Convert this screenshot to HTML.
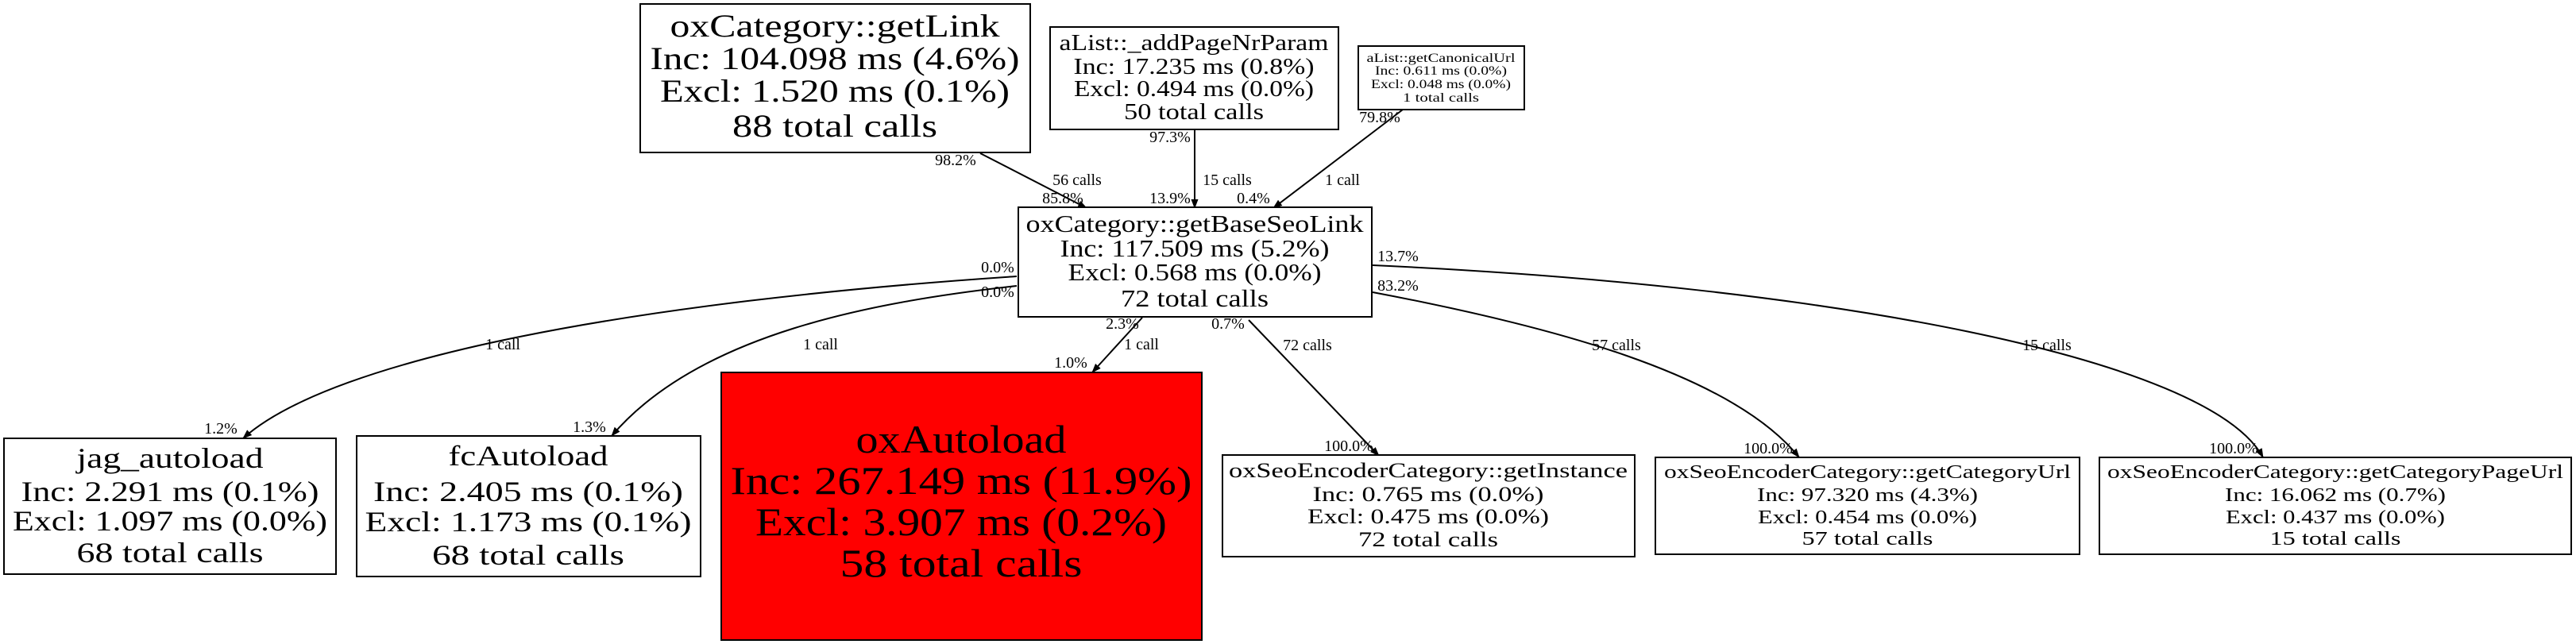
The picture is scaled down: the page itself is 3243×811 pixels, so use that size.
<!DOCTYPE html>
<html><head><meta charset="utf-8"><style>html,body{margin:0;padding:0;background:#fff}svg{display:block}</style></head>
<body>
<svg width="3243" height="811" viewBox="0 0 3243 811" xmlns="http://www.w3.org/2000/svg" font-family="Liberation Serif, serif" text-anchor="middle">
<rect width="3243" height="811" fill="#fff"/>
<defs><marker id="a" markerWidth="12" markerHeight="12" refX="11" refY="6" orient="auto" markerUnits="userSpaceOnUse"><path d="M0,1.5 L12,6 L0,10.5 z" fill="#000"/></marker></defs>
<g fill="none" stroke="#000" stroke-width="2">
<path d="M1234,193 L1368,262" marker-end="url(#a)"/>
<path d="M1504,163 L1504,262" marker-end="url(#a)"/>
<path d="M1766,138 L1603,262" marker-end="url(#a)"/>
<path d="M1280,348 C800,380 420,450 306,552" marker-end="url(#a)"/>
<path d="M1280,360 C1100,380 880,420 770,549" marker-end="url(#a)"/>
<path d="M1438,400 L1375,469" marker-end="url(#a)"/>
<path d="M1572,403 L1736,574" marker-end="url(#a)"/>
<path d="M1728,368 C1950,410 2180,470 2265,576" marker-end="url(#a)"/>
<path d="M1728,334 C2300,360 2780,450 2849,576" marker-end="url(#a)"/>
</g>
<g fill="#fff" stroke="#000" stroke-width="2">
<rect x="806" y="5" width="491" height="187"/>
<rect x="1322" y="34" width="363" height="129"/>
<rect x="1710" y="58" width="209" height="80"/>
<rect x="1282" y="261" width="445" height="138"/>
<rect x="5" y="552" width="418" height="171"/>
<rect x="449" y="549" width="433" height="177"/>
<rect x="908" y="469" width="605" height="337" fill="#ff0000"/>
<rect x="1539" y="573" width="519" height="128"/>
<rect x="2084" y="576" width="534" height="122"/>
<rect x="2643" y="576" width="594" height="122"/>
</g>
<g>
<g font-size="40"><text x="1051" y="46" textLength="415" lengthAdjust="spacingAndGlyphs">oxCategory::getLink</text><text x="1051" y="87" textLength="465" lengthAdjust="spacingAndGlyphs">Inc: 104.098 ms (4.6%)</text><text x="1051" y="128" textLength="440" lengthAdjust="spacingAndGlyphs">Excl: 1.520 ms (0.1%)</text><text x="1051" y="172" textLength="258" lengthAdjust="spacingAndGlyphs">88 total calls</text></g>
<g font-size="28"><text x="1503" y="63" textLength="339" lengthAdjust="spacingAndGlyphs">aList::_addPageNrParam</text><text x="1503" y="93" textLength="303" lengthAdjust="spacingAndGlyphs">Inc: 17.235 ms (0.8%)</text><text x="1503" y="121" textLength="302" lengthAdjust="spacingAndGlyphs">Excl: 0.494 ms (0.0%)</text><text x="1503" y="150" textLength="176" lengthAdjust="spacingAndGlyphs">50 total calls</text></g>
<g font-size="16"><text x="1814" y="78" textLength="187" lengthAdjust="spacingAndGlyphs">aList::getCanonicalUrl</text><text x="1814" y="94" textLength="166" lengthAdjust="spacingAndGlyphs">Inc: 0.611 ms (0.0%)</text><text x="1814" y="111" textLength="176" lengthAdjust="spacingAndGlyphs">Excl: 0.048 ms (0.0%)</text><text x="1814" y="128" textLength="96" lengthAdjust="spacingAndGlyphs">1 total calls</text></g>
<g font-size="31"><text x="1504" y="292" textLength="425" lengthAdjust="spacingAndGlyphs">oxCategory::getBaseSeoLink</text><text x="1504" y="323" textLength="339" lengthAdjust="spacingAndGlyphs">Inc: 117.509 ms (5.2%)</text><text x="1504" y="353" textLength="319" lengthAdjust="spacingAndGlyphs">Excl: 0.568 ms (0.0%)</text><text x="1504" y="386" textLength="186" lengthAdjust="spacingAndGlyphs">72 total calls</text></g>
<g font-size="36"><text x="214" y="589" textLength="235" lengthAdjust="spacingAndGlyphs">jag_autoload</text><text x="214" y="631" textLength="375" lengthAdjust="spacingAndGlyphs">Inc: 2.291 ms (0.1%)</text><text x="214" y="668" textLength="396" lengthAdjust="spacingAndGlyphs">Excl: 1.097 ms (0.0%)</text><text x="214" y="708" textLength="235" lengthAdjust="spacingAndGlyphs">68 total calls</text></g>
<g font-size="36"><text x="665" y="586" textLength="201" lengthAdjust="spacingAndGlyphs">fcAutoload</text><text x="665" y="631" textLength="390" lengthAdjust="spacingAndGlyphs">Inc: 2.405 ms (0.1%)</text><text x="665" y="669" textLength="411" lengthAdjust="spacingAndGlyphs">Excl: 1.173 ms (0.1%)</text><text x="665" y="711" textLength="242" lengthAdjust="spacingAndGlyphs">68 total calls</text></g>
<g font-size="50"><text x="1210" y="570" textLength="265" lengthAdjust="spacingAndGlyphs">oxAutoload</text><text x="1210" y="622" textLength="581" lengthAdjust="spacingAndGlyphs">Inc: 267.149 ms (11.9%)</text><text x="1210" y="674" textLength="518" lengthAdjust="spacingAndGlyphs">Excl: 3.907 ms (0.2%)</text><text x="1210" y="726" textLength="305" lengthAdjust="spacingAndGlyphs">58 total calls</text></g>
<g font-size="26"><text x="1798" y="601" textLength="502" lengthAdjust="spacingAndGlyphs">oxSeoEncoderCategory::getInstance</text><text x="1798" y="631" textLength="291" lengthAdjust="spacingAndGlyphs">Inc: 0.765 ms (0.0%)</text><text x="1798" y="659" textLength="304" lengthAdjust="spacingAndGlyphs">Excl: 0.475 ms (0.0%)</text><text x="1798" y="688" textLength="176" lengthAdjust="spacingAndGlyphs">72 total calls</text></g>
<g font-size="24"><text x="2351" y="602" textLength="512" lengthAdjust="spacingAndGlyphs">oxSeoEncoderCategory::getCategoryUrl</text><text x="2351" y="631" textLength="278" lengthAdjust="spacingAndGlyphs">Inc: 97.320 ms (4.3%)</text><text x="2351" y="659" textLength="276" lengthAdjust="spacingAndGlyphs">Excl: 0.454 ms (0.0%)</text><text x="2351" y="686" textLength="165" lengthAdjust="spacingAndGlyphs">57 total calls</text></g>
<g font-size="24"><text x="2940" y="602" textLength="574" lengthAdjust="spacingAndGlyphs">oxSeoEncoderCategory::getCategoryPageUrl</text><text x="2940" y="631" textLength="278" lengthAdjust="spacingAndGlyphs">Inc: 16.062 ms (0.7%)</text><text x="2940" y="659" textLength="276" lengthAdjust="spacingAndGlyphs">Excl: 0.437 ms (0.0%)</text><text x="2940" y="686" textLength="165" lengthAdjust="spacingAndGlyphs">15 total calls</text></g>
</g>
<g font-size="20">
<text x="1203" y="208">98.2%</text><text x="1356" y="233">56 calls</text><text x="1338" y="256">85.8%</text>
<text x="1473" y="179">97.3%</text><text x="1545" y="233">15 calls</text><text x="1473" y="256">13.9%</text>
<text x="1737" y="154">79.8%</text><text x="1690" y="233">1 call</text><text x="1578" y="256">0.4%</text>
<text x="1760" y="329">13.7%</text><text x="1760" y="366">83.2%</text>
<text x="1256" y="343">0.0%</text><text x="1256" y="374">0.0%</text>
<text x="1413" y="414">2.3%</text><text x="1546" y="414">0.7%</text>
<text x="633" y="440">1 call</text><text x="1033" y="440">1 call</text><text x="1437" y="440">1 call</text>
<text x="278" y="546">1.2%</text><text x="742" y="544">1.3%</text><text x="1348" y="463">1.0%</text>
<text x="1646" y="441">72 calls</text><text x="2035" y="441">57 calls</text><text x="2577" y="441">15 calls</text>
<text x="1698" y="568">100.0%</text><text x="2226" y="571">100.0%</text><text x="2812" y="571">100.0%</text>
</g>
</svg>
</body></html>
